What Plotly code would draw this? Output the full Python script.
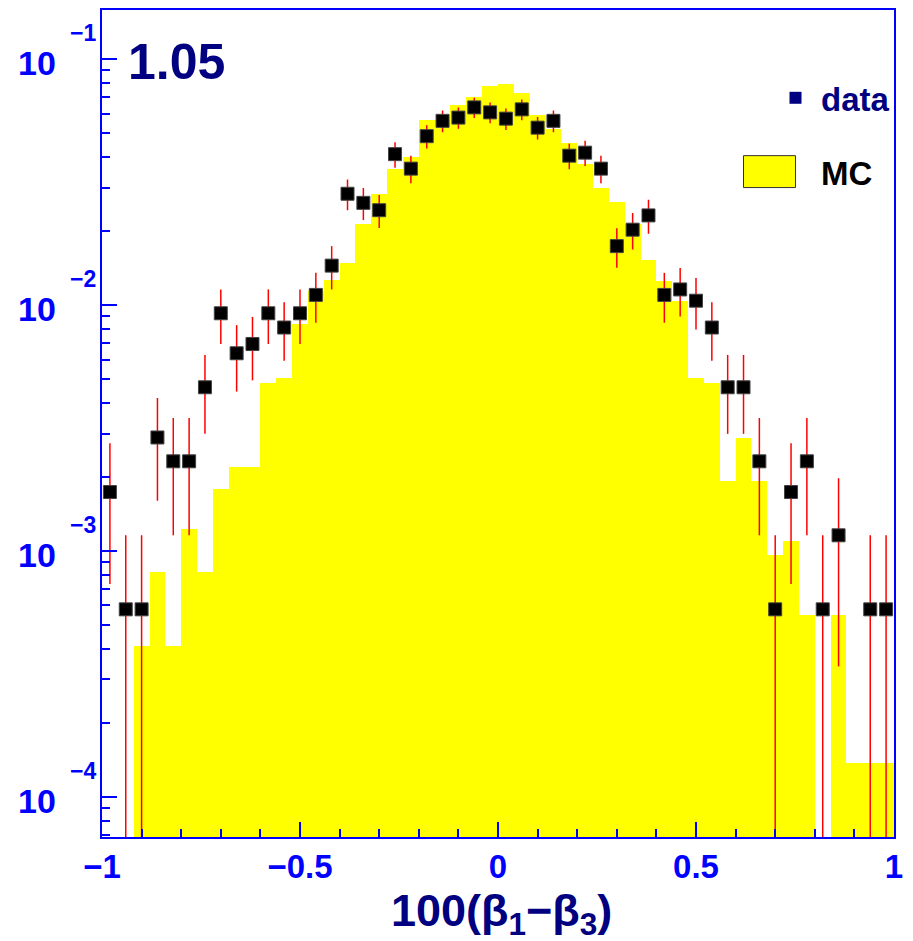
import numpy as np
import plotly.graph_objects as go

# Binning: 50 bins of width 0.04 on [-1, 1]
bin_edges = np.linspace(-1.0, 1.0, 51)
bin_centers = 0.5 * (bin_edges[:-1] + bin_edges[1:])
bin_width = 0.04

# Event counts per bin (data) - normalised to unit sum below
data_counts = [3, 1, 1, 5, 4, 4, 8, 16, 11, 12,
               16, 14, 16, 19, 25, 49, 45, 42, 71, 62,
               84, 97, 100, 110, 105, 99, 108, 91, 97, 70,
               72, 62, 30, 35, 40, 19, 20, 18, 14, 8,
               8, 4, 1, 3, 4, 1, 2, 0, 1, 1]

# Monte Carlo counts per bin - normalised to unit sum below
mc_counts = [0, 0, 3, 6, 3, 9, 6, 13, 16, 16,
             35, 37, 61, 83, 92, 108, 156, 207, 262, 291,
             412, 412, 473, 511, 565, 580, 529, 433, 381, 332,
             273, 218, 191, 156, 111, 91, 76, 37, 35, 14,
             21, 14, 7, 8, 4, 0, 4, 1, 1, 1]

x_tick_vals = [-1, -0.5, 0, 0.5, 1]
x_tick_text = ["\u22121", "\u22120.5", "0", "0.5", "1"]
y_decades = [-1, -2, -3, -4]

d = np.array(data_counts, dtype=float)
m = np.array(mc_counts, dtype=float)
d_norm = d.sum()
m_norm = m.sum()

data_y = [c / d_norm if c > 0 else None for c in d]
data_err = [np.sqrt(c) / d_norm if c > 0 else None for c in d]
mc_y = [c / m_norm if c > 0 else None for c in m]

BLUE = "#0000ff"
NAVY = "#000080"
FONT = "Liberation Sans, Arial, Helvetica, sans-serif"

# plot-area geometry in pixels (used for overlay text placement)
W, H = 913, 941
L, R, T, B = 102, 19, 8, 104
PW, PH = W - L - R, H - T - B


def px(X):
    return (X - L) / PW


def py(Y):
    return (H - B - Y) / PH


fig = go.Figure()

fig.add_trace(go.Bar(
    x=bin_centers, y=mc_y, width=bin_width,
    marker=dict(color="#ffff00", line=dict(width=0)),
    showlegend=False, hoverinfo="skip",
))

fig.add_trace(go.Scatter(
    x=bin_centers, y=data_y, mode="markers",
    marker=dict(symbol="square", size=13, color="black",
                line=dict(width=1, color="#444444")),
    error_y=dict(type="data", array=data_err, color="#ff0000",
                 thickness=1.5, width=0),
    showlegend=False,
))

minor_y = [k * 10.0 ** e for e in range(-5, 0) for k in range(2, 10)]

fig.update_xaxes(
    range=[-1, 1], showline=True, linecolor=BLUE, linewidth=1.5, mirror=True,
    ticks="inside", ticklen=15, tickwidth=1.5, tickcolor=BLUE,
    tickvals=x_tick_vals, ticktext=x_tick_text,
    tickfont=dict(family=FONT, size=33, color=BLUE, weight="bold"),
    minor=dict(ticks="inside", ticklen=8, tickwidth=1.5, tickcolor=BLUE,
               dtick=0.1, tick0=0, showgrid=False),
    showgrid=False, zeroline=False,
)

fig.update_yaxes(
    type="log", range=[-4.1635, -0.8], showline=True, linecolor=BLUE,
    linewidth=1.5, mirror=True,
    ticks="inside", ticklen=15, tickwidth=1.5, tickcolor=BLUE,
    tickvals=[10.0 ** e for e in y_decades], showticklabels=False,
    minor=dict(ticks="inside", ticklen=8, tickwidth=1.5, tickcolor=BLUE,
               tickvals=minor_y, showgrid=False),
    showgrid=False, zeroline=False,
)

annotations = []
for e in y_decades:
    annotations.append(dict(
        text="10", xref="paper", x=0, xanchor="right", xshift=-44,
        yref="y", y=e, yanchor="middle", yshift=-4, showarrow=False,
        font=dict(family=FONT, size=34, color=BLUE, weight="bold"),
    ))
    annotations.append(dict(
        text="\u2212%d" % abs(e), xref="paper", x=0, xanchor="right", xshift=-4,
        yref="y", y=e, yanchor="middle", yshift=26, showarrow=False,
        font=dict(family=FONT, size=23, color=BLUE, weight="bold"),
    ))

annotations.append(dict(
    text="1.05", xref="paper", x=px(126), xanchor="left",
    yref="paper", y=py(60), yanchor="middle", showarrow=False,
    font=dict(family=FONT, size=50, color=NAVY, weight="bold"),
))
annotations.append(dict(
    text="100(\u03b2<sub>1</sub>\u2212\u03b2<sub>3</sub>)", xref="paper", x=px(501),
    xanchor="center", yref="paper", y=py(914), yanchor="middle",
    showarrow=False, font=dict(family=FONT, size=45, color=NAVY, weight="bold"),
))
annotations.append(dict(
    text="data", xref="paper", x=px(819), xanchor="left",
    yref="paper", y=py(98), yanchor="middle", showarrow=False,
    font=dict(family=FONT, size=33, color=NAVY, weight="bold"),
))
annotations.append(dict(
    text="MC", xref="paper", x=px(819), xanchor="left",
    yref="paper", y=py(172), yanchor="middle", showarrow=False,
    font=dict(family=FONT, size=33, color="black", weight="bold"),
))

shapes = [
    dict(type="rect", xref="paper", yref="paper",
         x0=px(789.5), x1=px(801.5), y0=py(102), y1=py(90),
         fillcolor=NAVY, line=dict(width=0)),
    dict(type="rect", xref="paper", yref="paper",
         x0=px(743.5), x1=px(795.5), y0=py(186), y1=py(154),
         fillcolor="#ffff00", line=dict(width=1, color="#333333")),
]

fig.update_layout(
    width=W, height=H, margin=dict(l=L, r=R, t=T, b=B),
    plot_bgcolor="white", paper_bgcolor="white",
    bargap=0, showlegend=False,
    font=dict(family=FONT),
    annotations=annotations, shapes=shapes,
)

fig.write_html("out.html")
